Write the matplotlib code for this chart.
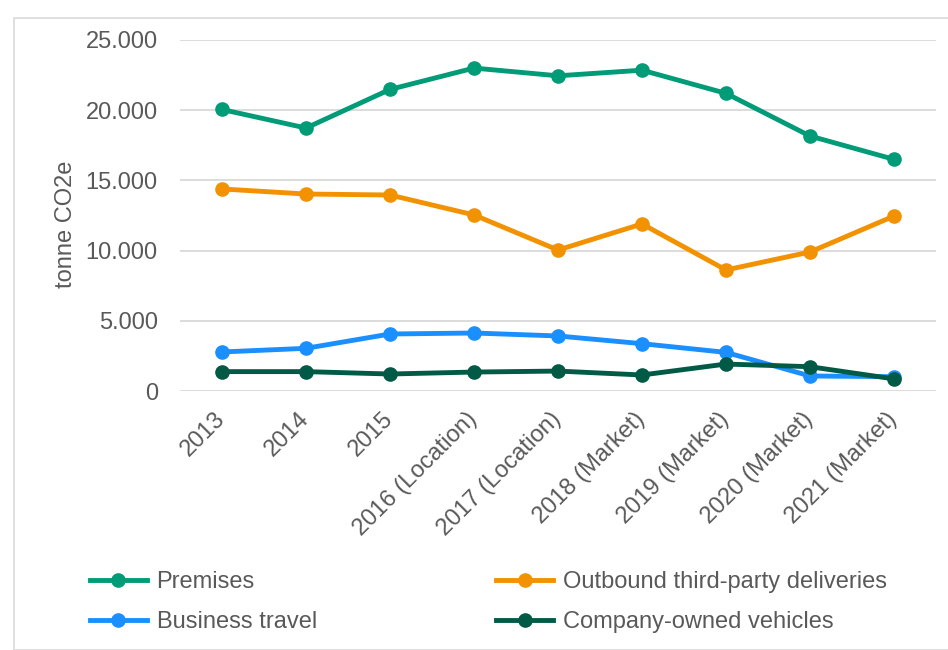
import matplotlib.pyplot as plt
from matplotlib.ticker import FuncFormatter
from matplotlib.patches import Rectangle

years = ["2013", "2014", "2015", "2016 (Location)", "2017 (Location)",
         "2018 (Market)", "2019 (Market)", "2020 (Market)", "2021 (Market)"]
premises = [20050, 18730, 21480, 23000, 22450, 22850, 21200, 18160, 16500]
outbound = [14390, 14030, 13960, 12540, 10040, 11900, 8620, 9900, 12460]
business_travel = [2780, 3040, 4060, 4130, 3920, 3370, 2750, 1070, 1020]
company_vehicles = [1380, 1380, 1210, 1350, 1420, 1140, 1920, 1730, 860]

plt.rcParams['font.family'] = ['Liberation Sans', 'DejaVu Sans']
txt = "#595959"

fig = plt.figure(figsize=(9.48, 6.5), dpi=100)
ax = fig.add_axes([180/948, 1-391/650, 756/948, 351/650])

x = range(len(years))
series = [
    ("Premises", premises, "#009B77"),
    ("Outbound third-party deliveries", outbound, "#F39200"),
    ("Business travel", business_travel, "#1A8FFF"),
    ("Company-owned vehicles", company_vehicles, "#005A46"),
]
lines = {}
for name, vals, c in series:
    lines[name], = ax.plot(x, vals, color=c, lw=3.5, marker="o", ms=9.5, label=name)

ax.set_xlim(-0.5, len(years) - 0.5)
ax.set_ylim(0, 25000)
ax.set_yticks(range(0, 25001, 5000))
ax.yaxis.set_major_formatter(FuncFormatter(lambda v, p: f"{int(v):,}".replace(",", ".")))
ax.grid(axis="y", color="#d9d9d9", lw=1.3)
ax.set_axisbelow(True)
for s in ax.spines.values():
    s.set_visible(False)
ax.tick_params(length=0, labelsize=17, colors=txt)
ax.tick_params(axis="y", pad=16)
ax.set_xticks(list(x))
ax.set_xticklabels(years, rotation=45, ha="right", va="center", rotation_mode="anchor")
ax.tick_params(axis="x", pad=18)
ax.set_ylabel("tonne CO2e", fontsize=17, color=txt)
ax.yaxis.set_label_coords(-0.136, 0.476)

order = ["Premises", "Business travel", "Outbound third-party deliveries", "Company-owned vehicles"]
fig.legend([lines[n] for n in order], order, ncol=2, loc="center left",
           bbox_to_anchor=(90/948, 1-602/650), frameon=False, fontsize=17,
           labelcolor=txt, handlelength=2.4, columnspacing=7.6, labelspacing=0.78,
           handletextpad=0.42, borderpad=0, borderaxespad=0)

fig.patches.append(Rectangle((14/948, 0.0), 940/948, 1-18/650, transform=fig.transFigure,
                             fill=False, edgecolor="#d9d9d9", lw=1.2))

fig.savefig("out.png", dpi=100)
